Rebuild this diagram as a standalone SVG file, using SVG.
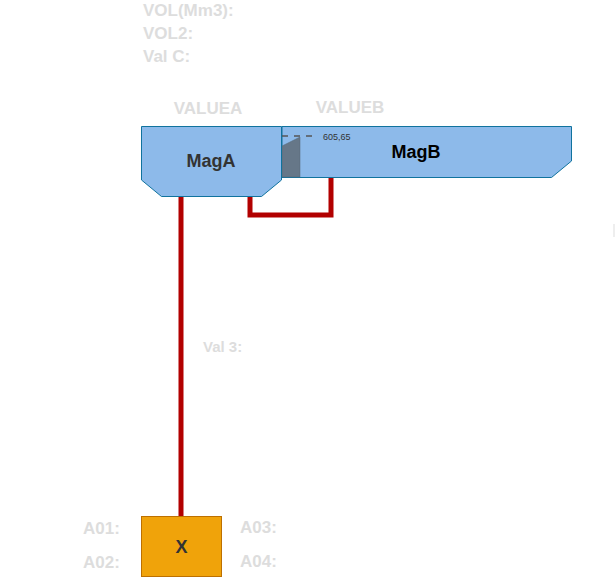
<svg xmlns="http://www.w3.org/2000/svg" width="616" height="578" viewBox="0 0 616 578">
<style>
.lbl{font-family:"Liberation Sans",Arial,sans-serif;font-size:17px;font-weight:bold;fill:#DDDDDD}
.mag{fill:#8DBAEA;stroke:#10739E;stroke-width:1}
.pipe{fill:none;stroke:#B20000;stroke-width:5}
.title{font-family:"Liberation Sans",Arial,sans-serif;font-size:18px;font-weight:bold;text-anchor:middle}
</style>
<rect width="616" height="578" fill="#FFFFFF"/>
<g id="labels">
<text class="lbl" x="143" y="16">VOL(Mm3):</text>
<text class="lbl" x="143" y="39">VOL2:</text>
<text class="lbl" x="143" y="62">Val C:</text>
<text class="lbl" x="208" y="114" text-anchor="middle">VALUEA</text>
<text class="lbl" x="350" y="113" text-anchor="middle">VALUEB</text>
<text class="lbl" x="203" y="352" style="font-size:15px">Val 3:</text>
<text class="lbl" x="83" y="534">A01:</text>
<text class="lbl" x="83" y="568">A02:</text>
<text class="lbl" x="240" y="533">A03:</text>
<text class="lbl" x="240" y="567">A04:</text>
<line x1="614" y1="224" x2="614" y2="237" stroke="#DDDDDD" stroke-width="1"/>
</g>
<g id="connectors">
<path class="pipe" d="M181,196 V516"/>
<path class="pipe" d="M250,196 V215 H331 V177"/>
</g>
<g id="MagB">
<polygon class="mag" points="282,126.5 571.5,126.5 571.5,161 551.5,177.5 282,177.5"/>
<polygon points="282,146 300,137 300,177 282,177" fill="#667788" stroke="#556677" stroke-width="0.5"/>
<line x1="282" y1="136" x2="318" y2="136" stroke="#555555" stroke-width="1.5" stroke-dasharray="6,6"/>
<text x="323" y="140" font-family="Liberation Sans,Arial,sans-serif" font-size="9" fill="#333333">605,65</text>
<text class="title" x="416" y="158" fill="#000000">MagB</text>
</g>
<g id="MagA">
<polygon class="mag" points="141.5,126.5 281.5,126.5 281.5,180 261.5,196.5 161.5,196.5 141.5,180"/>
<text class="title" x="211" y="167" fill="#333333">MagA</text>
</g>
<g id="X">
<rect x="141.5" y="516.5" width="80" height="60" fill="#F0A30A" stroke="#BD7000" stroke-width="1"/>
<text class="title" x="181.5" y="553" fill="#333333">X</text>
</g>
</svg>
